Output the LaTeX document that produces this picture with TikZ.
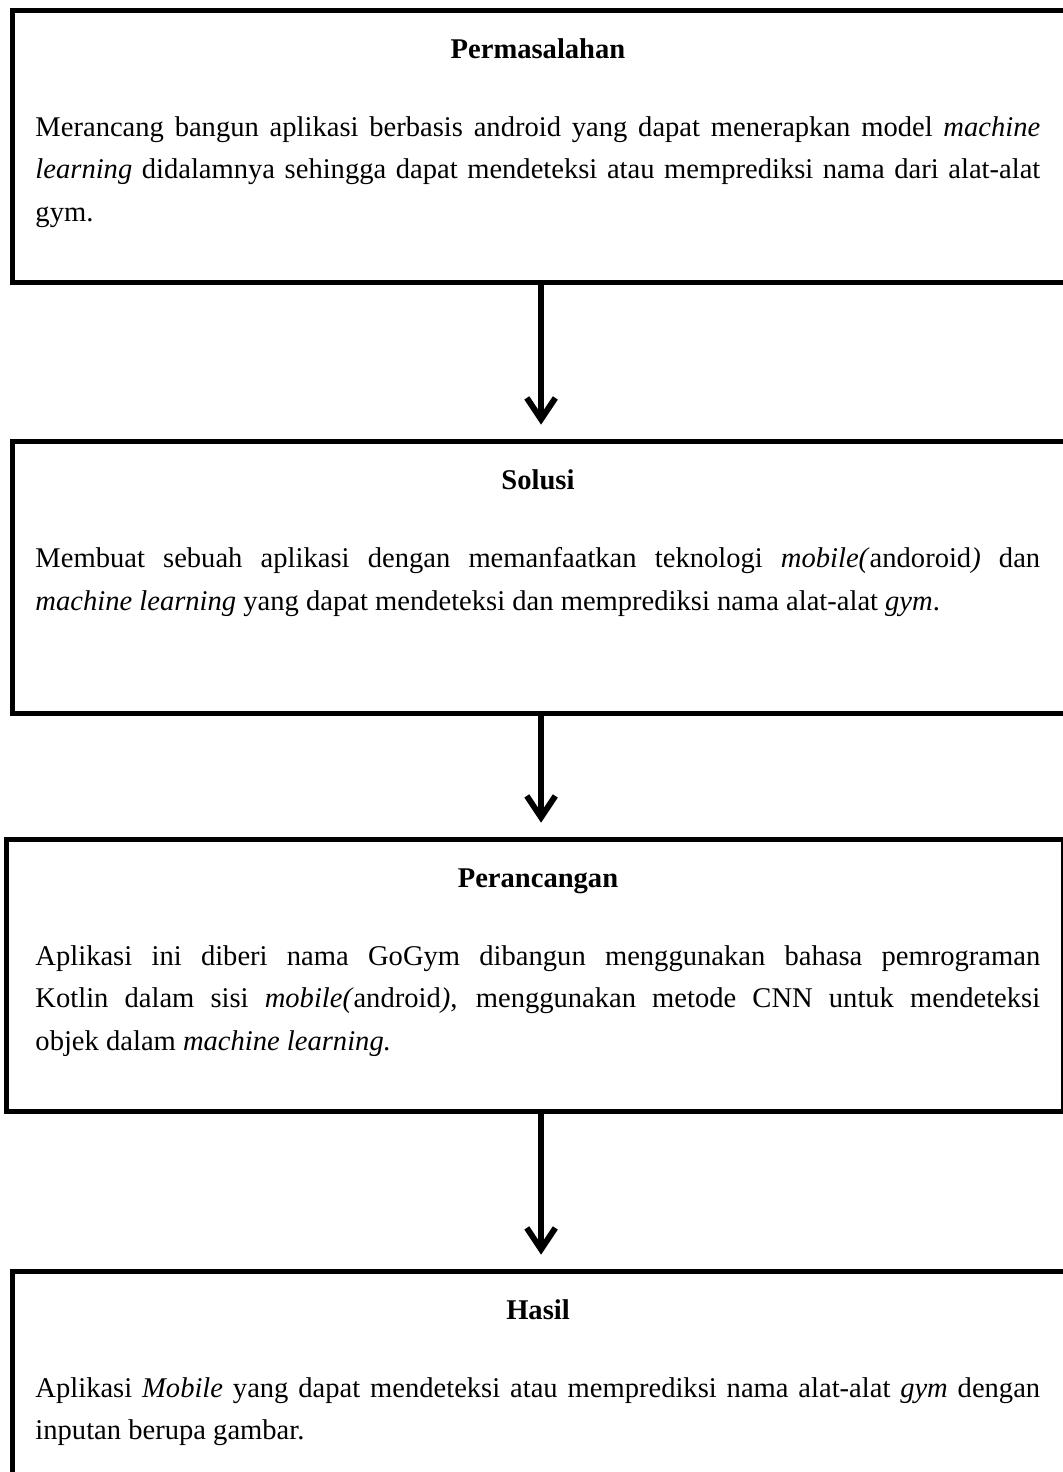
\documentclass[tikz,border=0pt]{standalone}
\usepackage{fontspec}
\setmainfont{Liberation Serif}
\usetikzlibrary{arrows.meta,positioning}
\hyphenpenalty=10000

\begin{document}
\begin{tikzpicture}[x=0.42pt,y=-0.42pt,
  kotak/.style={draw,line width=2.1pt,minimum width=444pt,minimum height=114.2pt,anchor=north west,inner sep=0pt},
  judul/.style={font=\bfseries\fontsize{12}{14}\selectfont,anchor=base,inner sep=0pt},
  isi/.style={text width=422pt,align=justify,anchor=north west,inner sep=0pt,
    font=\fontsize{12}{17.85}\selectfont},
  panah/.style={line width=2.5pt,shorten >=6pt,-{Straight Barb[length=9pt,width=12pt]}}]
\useasboundingbox (0,0) rectangle (1063,1472);

% Permasalahan
\node[kotak] (masalah) at (10,8) {};
\node[judul] (judul1) at (538,58) {Permasalahan};
\node[isi] (isi1) at (35,116) {Merancang bangun aplikasi berbasis android yang dapat menerapkan model \textit{machine}\linebreak
\textit{learning} didalamnya sehingga dapat mendeteksi atau memprediksi nama dari alat-alat\linebreak
gym.};

% Solusi
\node[kotak] (solusi) at (10,439) {};
\node[judul] (judul2) at (538,489) {Solusi};
\node[isi] (isi2) at (35,547) {Membuat sebuah aplikasi dengan memanfaatkan teknologi \textit{mobile(}andoroid\textit{)} dan\linebreak
\textit{machine learning} yang dapat mendeteksi dan memprediksi nama alat-alat \textit{gym}.};

% Perancangan
\node[kotak] (rancang) at (4,837) {};
\node[judul] (judul3) at (538,887) {Perancangan};
\node[isi] (isi3) at (35,945) {Aplikasi ini diberi nama GoGym dibangun menggunakan bahasa pemrograman\linebreak
Kotlin dalam sisi \textit{mobile(}android\textit{)}, menggunakan metode CNN untuk mendeteksi\linebreak
objek dalam \textit{machine learning.}};

% Hasil
\node[kotak] (hasil) at (10,1269) {};
\node[judul] (judul4) at (538,1319) {Hasil};
\node[isi] (isi4) at (35,1377) {Aplikasi \textit{Mobile} yang dapat mendeteksi atau memprediksi nama alat-alat \textit{gym} dengan\linebreak
inputan berupa gambar.};

% panah
\draw[panah] (masalah.south) -- (solusi.north);
\draw[panah] (solusi.south) -- (solusi.south |- rancang.north);
\draw[panah] (masalah.south |- rancang.south) -- (masalah.south |- hasil.north);
\end{tikzpicture}
\end{document}
